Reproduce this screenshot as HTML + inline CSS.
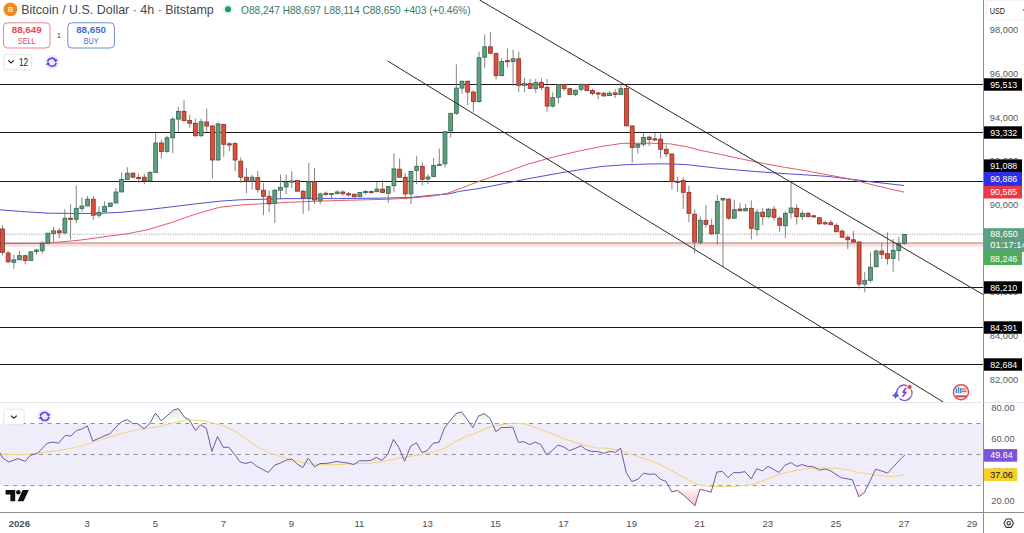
<!DOCTYPE html>
<html><head><meta charset="utf-8"><style>
html,body{margin:0;padding:0;background:#fff;width:1024px;height:533px;overflow:hidden}
svg{display:block}
text{font-family:"Liberation Sans",sans-serif}
.ax{font-size:9.3px}
.lb{font-size:9.7px}
.axg{font-size:9.3px;fill:#555862}
.tm{font-size:9.6px;fill:#4a4d58}
</style></head><body>
<svg width="1024" height="533" viewBox="0 0 1024 533">
<rect width="1024" height="533" fill="#fff"/>

<rect x="0" y="423.5" width="983" height="62.10000000000002" fill="#f0edfa"/>
<line x1="0" y1="84.5" x2="983" y2="84.5" stroke="#1b1b1b" stroke-width="1"/>
<line x1="0" y1="132.5" x2="983" y2="132.5" stroke="#1b1b1b" stroke-width="1"/>
<line x1="0" y1="181.5" x2="983" y2="181.5" stroke="#1b1b1b" stroke-width="1"/>
<line x1="0" y1="287.5" x2="983" y2="287.5" stroke="#1b1b1b" stroke-width="1"/>
<line x1="0" y1="327.5" x2="983" y2="327.5" stroke="#1b1b1b" stroke-width="1"/>
<line x1="0" y1="364.5" x2="983" y2="364.5" stroke="#1b1b1b" stroke-width="1"/>
<rect x="0" y="243.5" width="983" height="3.2" fill="#f9dfdd"/>
<line x1="0" y1="243.0" x2="983" y2="243.0" stroke="#a47a76" stroke-width="1"/>
<line x1="0" y1="234.2" x2="983" y2="234.2" stroke="#8a8a8a" stroke-width="0.9" stroke-dasharray="1 1.4"/>
<polyline points="0.0,209.8 24.4,211.7 48.8,213.2 73.0,213.4 97.7,213.4 122.0,212.2 146.5,209.8 171.0,206.9 195.3,203.9 219.7,201.2 240.0,199.8 288.8,198.6 337.7,198.6 386.5,198.1 410.9,197.4 435.3,194.9 447.5,194.2 459.7,191.3 480.0,188.4 504.4,183.5 528.8,178.6 553.2,174.2 577.7,170.0 602.1,166.4 626.5,164.7 650.9,163.9 670.4,163.9 687.5,164.7 700.0,166.2 721.5,168.6 743.0,170.5 764.4,172.2 785.9,173.7 807.4,175.0 828.9,176.5 850.4,179.1 871.9,181.9 904.1,185.5" fill="none" stroke="#5050d2" stroke-width="1"/>
<polyline points="0.0,243.6 30.0,243.5 45.0,243.2 56.2,242.3 78.7,240.3 101.2,237.2 128.0,233.6 146.5,230.0 171.0,222.7 195.3,214.2 219.7,207.3 240.0,205.0 288.8,202.3 337.7,200.5 386.5,199.3 410.9,198.1 435.3,195.7 447.5,193.2 459.7,188.8 472.0,184.0 480.0,181.0 504.4,172.5 528.8,163.9 553.2,157.1 577.7,151.3 602.1,146.4 621.6,143.4 650.9,143.2 670.4,143.9 687.5,146.9 700.0,150.3 721.5,154.6 743.0,159.3 764.4,163.6 785.9,167.5 807.4,171.1 828.9,175.0 850.4,179.1 871.9,184.7 904.1,192.2" fill="none" stroke="#e25a66" stroke-width="1"/>
<line x1="2.50" y1="225.3" x2="2.50" y2="255.3" stroke="#6f6f6f" stroke-width="1" opacity="0.85"/>
<rect x="0.55" y="229.0" width="3.9" height="23.3" fill="#d9503d" stroke="#8e2f25" stroke-width="0.8"/>
<line x1="8.17" y1="250.8" x2="8.17" y2="263.5" stroke="#6f6f6f" stroke-width="1" opacity="0.85"/>
<rect x="6.22" y="253.0" width="3.9" height="8.7" fill="#d9503d" stroke="#8e2f25" stroke-width="0.8"/>
<line x1="13.85" y1="254.8" x2="13.85" y2="268.8" stroke="#6f6f6f" stroke-width="1" opacity="0.85"/>
<rect x="11.90" y="259.8" width="3.9" height="2.5" fill="#5d9f7f" stroke="#36664f" stroke-width="0.8"/>
<line x1="19.52" y1="250.8" x2="19.52" y2="259.8" stroke="#6f6f6f" stroke-width="1" opacity="0.85"/>
<rect x="17.57" y="255.7" width="3.9" height="4.1" fill="#5d9f7f" stroke="#36664f" stroke-width="0.8"/>
<line x1="25.19" y1="254.8" x2="25.19" y2="264.3" stroke="#6f6f6f" stroke-width="1" opacity="0.85"/>
<rect x="23.24" y="255.7" width="3.9" height="4.8" fill="#d9503d" stroke="#8e2f25" stroke-width="0.8"/>
<line x1="30.87" y1="251.8" x2="30.87" y2="260.5" stroke="#6f6f6f" stroke-width="1" opacity="0.85"/>
<rect x="28.92" y="251.8" width="3.9" height="8.7" fill="#5d9f7f" stroke="#36664f" stroke-width="0.8"/>
<line x1="36.54" y1="248.8" x2="36.54" y2="254.8" stroke="#6f6f6f" stroke-width="1" opacity="0.85"/>
<rect x="34.59" y="250.0" width="3.9" height="1.5" fill="#5d9f7f" stroke="#36664f" stroke-width="0.8"/>
<line x1="42.21" y1="241.3" x2="42.21" y2="253.8" stroke="#6f6f6f" stroke-width="1" opacity="0.85"/>
<rect x="40.26" y="243.3" width="3.9" height="7.5" fill="#5d9f7f" stroke="#36664f" stroke-width="0.8"/>
<line x1="47.88" y1="233.2" x2="47.88" y2="244.0" stroke="#6f6f6f" stroke-width="1" opacity="0.85"/>
<rect x="45.93" y="233.2" width="3.9" height="10.1" fill="#5d9f7f" stroke="#36664f" stroke-width="0.8"/>
<line x1="53.56" y1="226.8" x2="53.56" y2="241.8" stroke="#6f6f6f" stroke-width="1" opacity="0.85"/>
<rect x="51.61" y="230.8" width="3.9" height="2.7" fill="#5d9f7f" stroke="#36664f" stroke-width="0.8"/>
<line x1="59.23" y1="228.3" x2="59.23" y2="238.3" stroke="#6f6f6f" stroke-width="1" opacity="0.85"/>
<rect x="57.28" y="230.8" width="3.9" height="2.0" fill="#d9503d" stroke="#8e2f25" stroke-width="0.8"/>
<line x1="64.90" y1="209.2" x2="64.90" y2="234.3" stroke="#6f6f6f" stroke-width="1" opacity="0.85"/>
<rect x="62.95" y="218.2" width="3.9" height="14.6" fill="#5d9f7f" stroke="#36664f" stroke-width="0.8"/>
<line x1="70.58" y1="204.3" x2="70.58" y2="239.5" stroke="#6f6f6f" stroke-width="1" opacity="0.85"/>
<rect x="68.63" y="218.2" width="3.9" height="1.2" fill="#d9503d" stroke="#8e2f25" stroke-width="0.8"/>
<line x1="76.25" y1="185.5" x2="76.25" y2="223.3" stroke="#6f6f6f" stroke-width="1" opacity="0.85"/>
<rect x="74.30" y="208.3" width="3.9" height="11.0" fill="#5d9f7f" stroke="#36664f" stroke-width="0.8"/>
<line x1="81.92" y1="197.4" x2="81.92" y2="211.8" stroke="#6f6f6f" stroke-width="1" opacity="0.85"/>
<rect x="79.97" y="206.0" width="3.9" height="2.4" fill="#5d9f7f" stroke="#36664f" stroke-width="0.8"/>
<line x1="87.59" y1="196.0" x2="87.59" y2="206.0" stroke="#6f6f6f" stroke-width="1" opacity="0.85"/>
<rect x="85.64" y="199.2" width="3.9" height="6.8" fill="#5d9f7f" stroke="#36664f" stroke-width="0.8"/>
<line x1="93.27" y1="196.0" x2="93.27" y2="219.7" stroke="#6f6f6f" stroke-width="1" opacity="0.85"/>
<rect x="91.32" y="199.2" width="3.9" height="16.0" fill="#d9503d" stroke="#8e2f25" stroke-width="0.8"/>
<line x1="98.94" y1="206.5" x2="98.94" y2="217.8" stroke="#6f6f6f" stroke-width="1" opacity="0.85"/>
<rect x="96.99" y="212.3" width="3.9" height="2.9" fill="#5d9f7f" stroke="#36664f" stroke-width="0.8"/>
<line x1="104.61" y1="201.3" x2="104.61" y2="212.0" stroke="#6f6f6f" stroke-width="1" opacity="0.85"/>
<rect x="102.66" y="206.5" width="3.9" height="5.3" fill="#5d9f7f" stroke="#36664f" stroke-width="0.8"/>
<line x1="110.29" y1="203.0" x2="110.29" y2="206.5" stroke="#6f6f6f" stroke-width="1" opacity="0.85"/>
<rect x="108.34" y="203.0" width="3.9" height="3.5" fill="#5d9f7f" stroke="#36664f" stroke-width="0.8"/>
<line x1="115.96" y1="188.0" x2="115.96" y2="203.0" stroke="#6f6f6f" stroke-width="1" opacity="0.85"/>
<rect x="114.01" y="192.0" width="3.9" height="11.0" fill="#5d9f7f" stroke="#36664f" stroke-width="0.8"/>
<line x1="121.63" y1="172.4" x2="121.63" y2="192.0" stroke="#6f6f6f" stroke-width="1" opacity="0.85"/>
<rect x="119.68" y="179.5" width="3.9" height="12.5" fill="#5d9f7f" stroke="#36664f" stroke-width="0.8"/>
<line x1="127.31" y1="167.2" x2="127.31" y2="179.5" stroke="#6f6f6f" stroke-width="1" opacity="0.85"/>
<rect x="125.36" y="173.2" width="3.9" height="6.3" fill="#5d9f7f" stroke="#36664f" stroke-width="0.8"/>
<line x1="132.98" y1="172.0" x2="132.98" y2="178.5" stroke="#6f6f6f" stroke-width="1" opacity="0.85"/>
<rect x="131.03" y="173.2" width="3.9" height="4.0" fill="#d9503d" stroke="#8e2f25" stroke-width="0.8"/>
<line x1="138.65" y1="173.7" x2="138.65" y2="183.0" stroke="#6f6f6f" stroke-width="1" opacity="0.85"/>
<rect x="136.70" y="177.5" width="3.9" height="1.2" fill="#d9503d" stroke="#8e2f25" stroke-width="0.8"/>
<line x1="144.32" y1="173.7" x2="144.32" y2="184.2" stroke="#6f6f6f" stroke-width="1" opacity="0.85"/>
<rect x="142.38" y="177.2" width="3.9" height="3.6" fill="#d9503d" stroke="#8e2f25" stroke-width="0.8"/>
<line x1="150.00" y1="171.0" x2="150.00" y2="181.6" stroke="#6f6f6f" stroke-width="1" opacity="0.85"/>
<rect x="148.05" y="172.4" width="3.9" height="8.6" fill="#5d9f7f" stroke="#36664f" stroke-width="0.8"/>
<line x1="155.67" y1="133.0" x2="155.67" y2="172.4" stroke="#6f6f6f" stroke-width="1" opacity="0.85"/>
<rect x="153.72" y="143.0" width="3.9" height="29.4" fill="#5d9f7f" stroke="#36664f" stroke-width="0.8"/>
<line x1="161.34" y1="139.6" x2="161.34" y2="158.5" stroke="#6f6f6f" stroke-width="1" opacity="0.85"/>
<rect x="159.39" y="143.0" width="3.9" height="8.4" fill="#d9503d" stroke="#8e2f25" stroke-width="0.8"/>
<line x1="167.02" y1="135.7" x2="167.02" y2="152.7" stroke="#6f6f6f" stroke-width="1" opacity="0.85"/>
<rect x="165.07" y="137.8" width="3.9" height="13.6" fill="#5d9f7f" stroke="#36664f" stroke-width="0.8"/>
<line x1="172.69" y1="117.3" x2="172.69" y2="153.3" stroke="#6f6f6f" stroke-width="1" opacity="0.85"/>
<rect x="170.74" y="119.1" width="3.9" height="18.7" fill="#5d9f7f" stroke="#36664f" stroke-width="0.8"/>
<line x1="178.36" y1="106.8" x2="178.36" y2="131.7" stroke="#6f6f6f" stroke-width="1" opacity="0.85"/>
<rect x="176.41" y="111.3" width="3.9" height="7.8" fill="#5d9f7f" stroke="#36664f" stroke-width="0.8"/>
<line x1="184.04" y1="100.2" x2="184.04" y2="121.0" stroke="#6f6f6f" stroke-width="1" opacity="0.85"/>
<rect x="182.09" y="111.3" width="3.9" height="9.4" fill="#d9503d" stroke="#8e2f25" stroke-width="0.8"/>
<line x1="189.71" y1="114.7" x2="189.71" y2="127.8" stroke="#6f6f6f" stroke-width="1" opacity="0.85"/>
<rect x="187.76" y="120.5" width="3.9" height="2.8" fill="#d9503d" stroke="#8e2f25" stroke-width="0.8"/>
<line x1="195.38" y1="118.6" x2="195.38" y2="137.0" stroke="#6f6f6f" stroke-width="1" opacity="0.85"/>
<rect x="193.43" y="123.3" width="3.9" height="12.4" fill="#d9503d" stroke="#8e2f25" stroke-width="0.8"/>
<line x1="201.06" y1="118.6" x2="201.06" y2="137.0" stroke="#6f6f6f" stroke-width="1" opacity="0.85"/>
<rect x="199.11" y="121.8" width="3.9" height="13.9" fill="#5d9f7f" stroke="#36664f" stroke-width="0.8"/>
<line x1="206.73" y1="108.6" x2="206.73" y2="131.7" stroke="#6f6f6f" stroke-width="1" opacity="0.85"/>
<rect x="204.78" y="122.0" width="3.9" height="4.0" fill="#d9503d" stroke="#8e2f25" stroke-width="0.8"/>
<line x1="212.40" y1="125.0" x2="212.40" y2="178.5" stroke="#6f6f6f" stroke-width="1" opacity="0.85"/>
<rect x="210.45" y="126.0" width="3.9" height="34.0" fill="#d9503d" stroke="#8e2f25" stroke-width="0.8"/>
<line x1="218.07" y1="122.6" x2="218.07" y2="160.5" stroke="#6f6f6f" stroke-width="1" opacity="0.85"/>
<rect x="216.12" y="123.9" width="3.9" height="36.1" fill="#5d9f7f" stroke="#36664f" stroke-width="0.8"/>
<line x1="223.75" y1="123.9" x2="223.75" y2="156.7" stroke="#6f6f6f" stroke-width="1" opacity="0.85"/>
<rect x="221.80" y="124.4" width="3.9" height="19.9" fill="#d9503d" stroke="#8e2f25" stroke-width="0.8"/>
<line x1="229.42" y1="142.2" x2="229.42" y2="151.4" stroke="#6f6f6f" stroke-width="1" opacity="0.85"/>
<rect x="227.47" y="143.8" width="3.9" height="1.2" fill="#d9503d" stroke="#8e2f25" stroke-width="0.8"/>
<line x1="235.09" y1="142.2" x2="235.09" y2="171.1" stroke="#6f6f6f" stroke-width="1" opacity="0.85"/>
<rect x="233.14" y="143.6" width="3.9" height="16.4" fill="#d9503d" stroke="#8e2f25" stroke-width="0.8"/>
<line x1="240.77" y1="157.5" x2="240.77" y2="182.9" stroke="#6f6f6f" stroke-width="1" opacity="0.85"/>
<rect x="238.82" y="161.1" width="3.9" height="16.1" fill="#d9503d" stroke="#8e2f25" stroke-width="0.8"/>
<line x1="246.44" y1="168.0" x2="246.44" y2="193.4" stroke="#6f6f6f" stroke-width="1" opacity="0.85"/>
<rect x="244.49" y="177.2" width="3.9" height="3.9" fill="#d9503d" stroke="#8e2f25" stroke-width="0.8"/>
<line x1="252.11" y1="175.0" x2="252.11" y2="189.5" stroke="#6f6f6f" stroke-width="1" opacity="0.85"/>
<rect x="250.16" y="177.2" width="3.9" height="3.9" fill="#5d9f7f" stroke="#36664f" stroke-width="0.8"/>
<line x1="257.78" y1="171.0" x2="257.78" y2="192.6" stroke="#6f6f6f" stroke-width="1" opacity="0.85"/>
<rect x="255.83" y="177.7" width="3.9" height="11.8" fill="#d9503d" stroke="#8e2f25" stroke-width="0.8"/>
<line x1="263.46" y1="183.1" x2="263.46" y2="215.2" stroke="#6f6f6f" stroke-width="1" opacity="0.85"/>
<rect x="261.51" y="190.2" width="3.9" height="6.1" fill="#d9503d" stroke="#8e2f25" stroke-width="0.8"/>
<line x1="269.13" y1="190.7" x2="269.13" y2="212.3" stroke="#6f6f6f" stroke-width="1" opacity="0.85"/>
<rect x="267.18" y="196.3" width="3.9" height="7.6" fill="#d9503d" stroke="#8e2f25" stroke-width="0.8"/>
<line x1="274.80" y1="189.0" x2="274.80" y2="222.8" stroke="#6f6f6f" stroke-width="1" opacity="0.85"/>
<rect x="272.85" y="190.2" width="3.9" height="13.3" fill="#5d9f7f" stroke="#36664f" stroke-width="0.8"/>
<line x1="280.48" y1="174.6" x2="280.48" y2="199.1" stroke="#6f6f6f" stroke-width="1" opacity="0.85"/>
<rect x="278.53" y="187.3" width="3.9" height="2.9" fill="#5d9f7f" stroke="#36664f" stroke-width="0.8"/>
<line x1="286.15" y1="174.6" x2="286.15" y2="194.0" stroke="#6f6f6f" stroke-width="1" opacity="0.85"/>
<rect x="284.20" y="182.7" width="3.9" height="4.3" fill="#5d9f7f" stroke="#36664f" stroke-width="0.8"/>
<line x1="291.82" y1="171.3" x2="291.82" y2="188.1" stroke="#6f6f6f" stroke-width="1" opacity="0.85"/>
<rect x="289.87" y="180.9" width="3.9" height="1.3" fill="#5d9f7f" stroke="#36664f" stroke-width="0.8"/>
<line x1="297.50" y1="180.5" x2="297.50" y2="191.2" stroke="#6f6f6f" stroke-width="1" opacity="0.85"/>
<rect x="295.55" y="180.5" width="3.9" height="10.7" fill="#d9503d" stroke="#8e2f25" stroke-width="0.8"/>
<line x1="303.17" y1="189.8" x2="303.17" y2="213.8" stroke="#6f6f6f" stroke-width="1" opacity="0.85"/>
<rect x="301.22" y="191.2" width="3.9" height="6.6" fill="#d9503d" stroke="#8e2f25" stroke-width="0.8"/>
<line x1="308.84" y1="162.8" x2="308.84" y2="211.0" stroke="#6f6f6f" stroke-width="1" opacity="0.85"/>
<rect x="306.89" y="181.9" width="3.9" height="15.9" fill="#5d9f7f" stroke="#36664f" stroke-width="0.8"/>
<line x1="314.51" y1="167.9" x2="314.51" y2="203.9" stroke="#6f6f6f" stroke-width="1" opacity="0.85"/>
<rect x="312.56" y="181.6" width="3.9" height="18.4" fill="#d9503d" stroke="#8e2f25" stroke-width="0.8"/>
<line x1="320.19" y1="192.4" x2="320.19" y2="204.2" stroke="#6f6f6f" stroke-width="1" opacity="0.85"/>
<rect x="318.24" y="194.0" width="3.9" height="6.3" fill="#5d9f7f" stroke="#36664f" stroke-width="0.8"/>
<line x1="325.86" y1="191.5" x2="325.86" y2="195.7" stroke="#6f6f6f" stroke-width="1" opacity="0.85"/>
<rect x="323.91" y="193.2" width="3.9" height="1.2" fill="#d9503d" stroke="#8e2f25" stroke-width="0.8"/>
<line x1="331.53" y1="193.4" x2="331.53" y2="198.3" stroke="#6f6f6f" stroke-width="1" opacity="0.85"/>
<rect x="329.58" y="193.4" width="3.9" height="1.2" fill="#5d9f7f" stroke="#36664f" stroke-width="0.8"/>
<line x1="337.21" y1="190.3" x2="337.21" y2="193.7" stroke="#6f6f6f" stroke-width="1" opacity="0.85"/>
<rect x="335.26" y="192.0" width="3.9" height="1.7" fill="#5d9f7f" stroke="#36664f" stroke-width="0.8"/>
<line x1="342.88" y1="190.3" x2="342.88" y2="195.7" stroke="#6f6f6f" stroke-width="1" opacity="0.85"/>
<rect x="340.93" y="192.0" width="3.9" height="1.7" fill="#d9503d" stroke="#8e2f25" stroke-width="0.8"/>
<line x1="348.55" y1="192.0" x2="348.55" y2="196.5" stroke="#6f6f6f" stroke-width="1" opacity="0.85"/>
<rect x="346.60" y="193.7" width="3.9" height="1.2" fill="#d9503d" stroke="#8e2f25" stroke-width="0.8"/>
<line x1="354.23" y1="193.7" x2="354.23" y2="197.4" stroke="#6f6f6f" stroke-width="1" opacity="0.85"/>
<rect x="352.28" y="194.2" width="3.9" height="2.6" fill="#d9503d" stroke="#8e2f25" stroke-width="0.8"/>
<line x1="359.90" y1="191.7" x2="359.90" y2="197.2" stroke="#6f6f6f" stroke-width="1" opacity="0.85"/>
<rect x="357.95" y="192.5" width="3.9" height="4.2" fill="#5d9f7f" stroke="#36664f" stroke-width="0.8"/>
<line x1="365.57" y1="190.0" x2="365.57" y2="194.2" stroke="#6f6f6f" stroke-width="1" opacity="0.85"/>
<rect x="363.62" y="191.5" width="3.9" height="1.2" fill="#5d9f7f" stroke="#36664f" stroke-width="0.8"/>
<line x1="371.25" y1="190.5" x2="371.25" y2="193.3" stroke="#6f6f6f" stroke-width="1" opacity="0.85"/>
<rect x="369.30" y="191.5" width="3.9" height="1.2" fill="#d9503d" stroke="#8e2f25" stroke-width="0.8"/>
<line x1="376.92" y1="182.4" x2="376.92" y2="192.2" stroke="#6f6f6f" stroke-width="1" opacity="0.85"/>
<rect x="374.97" y="189.1" width="3.9" height="2.6" fill="#5d9f7f" stroke="#36664f" stroke-width="0.8"/>
<line x1="382.59" y1="180.3" x2="382.59" y2="192.8" stroke="#6f6f6f" stroke-width="1" opacity="0.85"/>
<rect x="380.64" y="189.1" width="3.9" height="3.4" fill="#d9503d" stroke="#8e2f25" stroke-width="0.8"/>
<line x1="388.26" y1="186.6" x2="388.26" y2="203.0" stroke="#6f6f6f" stroke-width="1" opacity="0.85"/>
<rect x="386.31" y="186.6" width="3.9" height="6.7" fill="#5d9f7f" stroke="#36664f" stroke-width="0.8"/>
<line x1="393.94" y1="153.3" x2="393.94" y2="192.2" stroke="#6f6f6f" stroke-width="1" opacity="0.85"/>
<rect x="391.99" y="168.9" width="3.9" height="16.8" fill="#5d9f7f" stroke="#36664f" stroke-width="0.8"/>
<line x1="399.61" y1="158.4" x2="399.61" y2="177.6" stroke="#6f6f6f" stroke-width="1" opacity="0.85"/>
<rect x="397.66" y="169.2" width="3.9" height="8.1" fill="#d9503d" stroke="#8e2f25" stroke-width="0.8"/>
<line x1="405.28" y1="173.1" x2="405.28" y2="199.3" stroke="#6f6f6f" stroke-width="1" opacity="0.85"/>
<rect x="403.33" y="177.3" width="3.9" height="16.6" fill="#d9503d" stroke="#8e2f25" stroke-width="0.8"/>
<line x1="410.96" y1="171.4" x2="410.96" y2="204.3" stroke="#6f6f6f" stroke-width="1" opacity="0.85"/>
<rect x="409.01" y="171.4" width="3.9" height="22.5" fill="#5d9f7f" stroke="#36664f" stroke-width="0.8"/>
<line x1="416.63" y1="156.2" x2="416.63" y2="184.1" stroke="#6f6f6f" stroke-width="1" opacity="0.85"/>
<rect x="414.68" y="166.3" width="3.9" height="4.2" fill="#5d9f7f" stroke="#36664f" stroke-width="0.8"/>
<line x1="422.30" y1="162.1" x2="422.30" y2="185.4" stroke="#6f6f6f" stroke-width="1" opacity="0.85"/>
<rect x="420.35" y="166.3" width="3.9" height="13.0" fill="#d9503d" stroke="#8e2f25" stroke-width="0.8"/>
<line x1="427.98" y1="173.9" x2="427.98" y2="184.1" stroke="#6f6f6f" stroke-width="1" opacity="0.85"/>
<rect x="426.03" y="177.0" width="3.9" height="2.0" fill="#5d9f7f" stroke="#36664f" stroke-width="0.8"/>
<line x1="433.65" y1="157.9" x2="433.65" y2="177.3" stroke="#6f6f6f" stroke-width="1" opacity="0.85"/>
<rect x="431.70" y="165.5" width="3.9" height="11.0" fill="#5d9f7f" stroke="#36664f" stroke-width="0.8"/>
<line x1="439.32" y1="148.6" x2="439.32" y2="165.5" stroke="#6f6f6f" stroke-width="1" opacity="0.85"/>
<rect x="437.37" y="164.3" width="3.9" height="1.2" fill="#5d9f7f" stroke="#36664f" stroke-width="0.8"/>
<line x1="444.99" y1="131.0" x2="444.99" y2="167.5" stroke="#6f6f6f" stroke-width="1" opacity="0.85"/>
<rect x="443.04" y="131.7" width="3.9" height="32.1" fill="#5d9f7f" stroke="#36664f" stroke-width="0.8"/>
<line x1="450.67" y1="113.3" x2="450.67" y2="137.6" stroke="#6f6f6f" stroke-width="1" opacity="0.85"/>
<rect x="448.72" y="113.3" width="3.9" height="17.6" fill="#5d9f7f" stroke="#36664f" stroke-width="0.8"/>
<line x1="456.34" y1="64.4" x2="456.34" y2="115.0" stroke="#6f6f6f" stroke-width="1" opacity="0.85"/>
<rect x="454.39" y="88.1" width="3.9" height="25.2" fill="#5d9f7f" stroke="#36664f" stroke-width="0.8"/>
<line x1="462.01" y1="80.2" x2="462.01" y2="93.7" stroke="#6f6f6f" stroke-width="1" opacity="0.85"/>
<rect x="460.06" y="81.3" width="3.9" height="6.8" fill="#5d9f7f" stroke="#36664f" stroke-width="0.8"/>
<line x1="467.69" y1="80.2" x2="467.69" y2="105.0" stroke="#6f6f6f" stroke-width="1" opacity="0.85"/>
<rect x="465.74" y="81.3" width="3.9" height="10.8" fill="#d9503d" stroke="#8e2f25" stroke-width="0.8"/>
<line x1="473.36" y1="90.3" x2="473.36" y2="111.7" stroke="#6f6f6f" stroke-width="1" opacity="0.85"/>
<rect x="471.41" y="92.1" width="3.9" height="9.5" fill="#d9503d" stroke="#8e2f25" stroke-width="0.8"/>
<line x1="479.03" y1="51.6" x2="479.03" y2="102.7" stroke="#6f6f6f" stroke-width="1" opacity="0.85"/>
<rect x="477.08" y="57.7" width="3.9" height="43.9" fill="#5d9f7f" stroke="#36664f" stroke-width="0.8"/>
<line x1="484.70" y1="34.5" x2="484.70" y2="67.8" stroke="#6f6f6f" stroke-width="1" opacity="0.85"/>
<rect x="482.75" y="46.8" width="3.9" height="10.4" fill="#5d9f7f" stroke="#36664f" stroke-width="0.8"/>
<line x1="490.38" y1="32.2" x2="490.38" y2="54.3" stroke="#6f6f6f" stroke-width="1" opacity="0.85"/>
<rect x="488.43" y="46.8" width="3.9" height="6.4" fill="#d9503d" stroke="#8e2f25" stroke-width="0.8"/>
<line x1="496.05" y1="52.5" x2="496.05" y2="79.1" stroke="#6f6f6f" stroke-width="1" opacity="0.85"/>
<rect x="494.10" y="53.6" width="3.9" height="22.1" fill="#d9503d" stroke="#8e2f25" stroke-width="0.8"/>
<line x1="501.72" y1="58.3" x2="501.72" y2="75.7" stroke="#6f6f6f" stroke-width="1" opacity="0.85"/>
<rect x="499.77" y="61.5" width="3.9" height="14.2" fill="#5d9f7f" stroke="#36664f" stroke-width="0.8"/>
<line x1="507.40" y1="48.6" x2="507.40" y2="67.3" stroke="#6f6f6f" stroke-width="1" opacity="0.85"/>
<rect x="505.45" y="60.6" width="3.9" height="1.2" fill="#d9503d" stroke="#8e2f25" stroke-width="0.8"/>
<line x1="513.07" y1="49.8" x2="513.07" y2="85.8" stroke="#6f6f6f" stroke-width="1" opacity="0.85"/>
<rect x="511.12" y="58.8" width="3.9" height="2.7" fill="#5d9f7f" stroke="#36664f" stroke-width="0.8"/>
<line x1="518.74" y1="51.6" x2="518.74" y2="92.1" stroke="#6f6f6f" stroke-width="1" opacity="0.85"/>
<rect x="516.79" y="58.8" width="3.9" height="26.6" fill="#d9503d" stroke="#8e2f25" stroke-width="0.8"/>
<line x1="524.42" y1="77.9" x2="524.42" y2="92.1" stroke="#6f6f6f" stroke-width="1" opacity="0.85"/>
<rect x="522.47" y="83.6" width="3.9" height="1.8" fill="#5d9f7f" stroke="#36664f" stroke-width="0.8"/>
<line x1="530.09" y1="78.6" x2="530.09" y2="88.5" stroke="#6f6f6f" stroke-width="1" opacity="0.85"/>
<rect x="528.14" y="83.6" width="3.9" height="4.9" fill="#d9503d" stroke="#8e2f25" stroke-width="0.8"/>
<line x1="535.76" y1="78.9" x2="535.76" y2="92.9" stroke="#6f6f6f" stroke-width="1" opacity="0.85"/>
<rect x="533.81" y="82.6" width="3.9" height="6.1" fill="#5d9f7f" stroke="#36664f" stroke-width="0.8"/>
<line x1="541.44" y1="78.3" x2="541.44" y2="90.2" stroke="#6f6f6f" stroke-width="1" opacity="0.85"/>
<rect x="539.49" y="82.6" width="3.9" height="4.8" fill="#d9503d" stroke="#8e2f25" stroke-width="0.8"/>
<line x1="547.11" y1="78.9" x2="547.11" y2="111.8" stroke="#6f6f6f" stroke-width="1" opacity="0.85"/>
<rect x="545.16" y="87.4" width="3.9" height="18.7" fill="#d9503d" stroke="#8e2f25" stroke-width="0.8"/>
<line x1="552.78" y1="92.3" x2="552.78" y2="107.6" stroke="#6f6f6f" stroke-width="1" opacity="0.85"/>
<rect x="550.83" y="97.6" width="3.9" height="8.5" fill="#5d9f7f" stroke="#36664f" stroke-width="0.8"/>
<line x1="558.45" y1="83.8" x2="558.45" y2="103.3" stroke="#6f6f6f" stroke-width="1" opacity="0.85"/>
<rect x="556.50" y="84.4" width="3.9" height="12.8" fill="#5d9f7f" stroke="#36664f" stroke-width="0.8"/>
<line x1="564.13" y1="83.8" x2="564.13" y2="91.1" stroke="#6f6f6f" stroke-width="1" opacity="0.85"/>
<rect x="562.18" y="84.4" width="3.9" height="4.3" fill="#d9503d" stroke="#8e2f25" stroke-width="0.8"/>
<line x1="569.80" y1="88.5" x2="569.80" y2="94.8" stroke="#6f6f6f" stroke-width="1" opacity="0.85"/>
<rect x="567.85" y="88.7" width="3.9" height="5.7" fill="#d9503d" stroke="#8e2f25" stroke-width="0.8"/>
<line x1="575.47" y1="89.5" x2="575.47" y2="96.0" stroke="#6f6f6f" stroke-width="1" opacity="0.85"/>
<rect x="573.52" y="90.2" width="3.9" height="4.2" fill="#5d9f7f" stroke="#36664f" stroke-width="0.8"/>
<line x1="581.15" y1="83.2" x2="581.15" y2="91.5" stroke="#6f6f6f" stroke-width="1" opacity="0.85"/>
<rect x="579.20" y="84.4" width="3.9" height="4.9" fill="#5d9f7f" stroke="#36664f" stroke-width="0.8"/>
<line x1="586.82" y1="84.2" x2="586.82" y2="90.8" stroke="#6f6f6f" stroke-width="1" opacity="0.85"/>
<rect x="584.87" y="84.4" width="3.9" height="6.1" fill="#d9503d" stroke="#8e2f25" stroke-width="0.8"/>
<line x1="592.49" y1="88.7" x2="592.49" y2="95.4" stroke="#6f6f6f" stroke-width="1" opacity="0.85"/>
<rect x="590.54" y="90.5" width="3.9" height="3.0" fill="#d9503d" stroke="#8e2f25" stroke-width="0.8"/>
<line x1="598.16" y1="92.0" x2="598.16" y2="99.0" stroke="#6f6f6f" stroke-width="1" opacity="0.85"/>
<rect x="596.21" y="92.9" width="3.9" height="1.2" fill="#d9503d" stroke="#8e2f25" stroke-width="0.8"/>
<line x1="603.84" y1="92.0" x2="603.84" y2="96.0" stroke="#6f6f6f" stroke-width="1" opacity="0.85"/>
<rect x="601.89" y="93.2" width="3.9" height="2.8" fill="#d9503d" stroke="#8e2f25" stroke-width="0.8"/>
<line x1="609.51" y1="91.1" x2="609.51" y2="96.0" stroke="#6f6f6f" stroke-width="1" opacity="0.85"/>
<rect x="607.56" y="93.2" width="3.9" height="2.4" fill="#5d9f7f" stroke="#36664f" stroke-width="0.8"/>
<line x1="615.18" y1="89.3" x2="615.18" y2="98.0" stroke="#6f6f6f" stroke-width="1" opacity="0.85"/>
<rect x="613.23" y="92.9" width="3.9" height="1.5" fill="#d9503d" stroke="#8e2f25" stroke-width="0.8"/>
<line x1="620.86" y1="85.6" x2="620.86" y2="94.8" stroke="#6f6f6f" stroke-width="1" opacity="0.85"/>
<rect x="618.91" y="88.7" width="3.9" height="5.7" fill="#5d9f7f" stroke="#36664f" stroke-width="0.8"/>
<line x1="626.53" y1="85.0" x2="626.53" y2="125.9" stroke="#6f6f6f" stroke-width="1" opacity="0.85"/>
<rect x="624.58" y="88.4" width="3.9" height="37.5" fill="#d9503d" stroke="#8e2f25" stroke-width="0.8"/>
<line x1="632.20" y1="125.9" x2="632.20" y2="162.8" stroke="#6f6f6f" stroke-width="1" opacity="0.85"/>
<rect x="630.25" y="125.9" width="3.9" height="21.7" fill="#d9503d" stroke="#8e2f25" stroke-width="0.8"/>
<line x1="637.88" y1="143.9" x2="637.88" y2="153.5" stroke="#6f6f6f" stroke-width="1" opacity="0.85"/>
<rect x="635.93" y="144.2" width="3.9" height="3.0" fill="#5d9f7f" stroke="#36664f" stroke-width="0.8"/>
<line x1="643.55" y1="133.2" x2="643.55" y2="146.7" stroke="#6f6f6f" stroke-width="1" opacity="0.85"/>
<rect x="641.60" y="137.4" width="3.9" height="6.8" fill="#5d9f7f" stroke="#36664f" stroke-width="0.8"/>
<line x1="649.22" y1="135.7" x2="649.22" y2="145.9" stroke="#6f6f6f" stroke-width="1" opacity="0.85"/>
<rect x="647.27" y="137.1" width="3.9" height="2.4" fill="#d9503d" stroke="#8e2f25" stroke-width="0.8"/>
<line x1="654.89" y1="133.2" x2="654.89" y2="140.5" stroke="#6f6f6f" stroke-width="1" opacity="0.85"/>
<rect x="652.94" y="138.8" width="3.9" height="1.2" fill="#d9503d" stroke="#8e2f25" stroke-width="0.8"/>
<line x1="660.57" y1="133.7" x2="660.57" y2="158.5" stroke="#6f6f6f" stroke-width="1" opacity="0.85"/>
<rect x="658.62" y="139.1" width="3.9" height="10.2" fill="#d9503d" stroke="#8e2f25" stroke-width="0.8"/>
<line x1="666.24" y1="145.0" x2="666.24" y2="156.9" stroke="#6f6f6f" stroke-width="1" opacity="0.85"/>
<rect x="664.29" y="149.3" width="3.9" height="4.5" fill="#d9503d" stroke="#8e2f25" stroke-width="0.8"/>
<line x1="671.91" y1="153.4" x2="671.91" y2="189.4" stroke="#6f6f6f" stroke-width="1" opacity="0.85"/>
<rect x="669.96" y="154.0" width="3.9" height="27.5" fill="#d9503d" stroke="#8e2f25" stroke-width="0.8"/>
<line x1="677.59" y1="176.6" x2="677.59" y2="191.7" stroke="#6f6f6f" stroke-width="1" opacity="0.85"/>
<rect x="675.64" y="181.3" width="3.9" height="1.2" fill="#d9503d" stroke="#8e2f25" stroke-width="0.8"/>
<line x1="683.26" y1="177.0" x2="683.26" y2="209.0" stroke="#6f6f6f" stroke-width="1" opacity="0.85"/>
<rect x="681.31" y="180.4" width="3.9" height="11.9" fill="#d9503d" stroke="#8e2f25" stroke-width="0.8"/>
<line x1="688.93" y1="186.0" x2="688.93" y2="222.1" stroke="#6f6f6f" stroke-width="1" opacity="0.85"/>
<rect x="686.98" y="192.3" width="3.9" height="21.2" fill="#d9503d" stroke="#8e2f25" stroke-width="0.8"/>
<line x1="694.61" y1="209.7" x2="694.61" y2="253.2" stroke="#6f6f6f" stroke-width="1" opacity="0.85"/>
<rect x="692.66" y="214.2" width="3.9" height="27.7" fill="#d9503d" stroke="#8e2f25" stroke-width="0.8"/>
<line x1="700.28" y1="216.4" x2="700.28" y2="244.6" stroke="#6f6f6f" stroke-width="1" opacity="0.85"/>
<rect x="698.33" y="220.3" width="3.9" height="22.0" fill="#5d9f7f" stroke="#36664f" stroke-width="0.8"/>
<line x1="705.95" y1="205.2" x2="705.95" y2="227.7" stroke="#6f6f6f" stroke-width="1" opacity="0.85"/>
<rect x="704.00" y="220.3" width="3.9" height="4.0" fill="#d9503d" stroke="#8e2f25" stroke-width="0.8"/>
<line x1="711.62" y1="218.7" x2="711.62" y2="235.1" stroke="#6f6f6f" stroke-width="1" opacity="0.85"/>
<rect x="709.67" y="225.5" width="3.9" height="8.3" fill="#d9503d" stroke="#8e2f25" stroke-width="0.8"/>
<line x1="717.30" y1="195.0" x2="717.30" y2="244.6" stroke="#6f6f6f" stroke-width="1" opacity="0.85"/>
<rect x="715.35" y="201.4" width="3.9" height="31.9" fill="#5d9f7f" stroke="#36664f" stroke-width="0.8"/>
<line x1="722.97" y1="198.4" x2="722.97" y2="267.1" stroke="#6f6f6f" stroke-width="1" opacity="0.85"/>
<rect x="721.02" y="198.4" width="3.9" height="1.6" fill="#5d9f7f" stroke="#36664f" stroke-width="0.8"/>
<line x1="728.64" y1="198.4" x2="728.64" y2="219.8" stroke="#6f6f6f" stroke-width="1" opacity="0.85"/>
<rect x="726.69" y="199.1" width="3.9" height="19.1" fill="#d9503d" stroke="#8e2f25" stroke-width="0.8"/>
<line x1="734.32" y1="200.0" x2="734.32" y2="218.6" stroke="#6f6f6f" stroke-width="1" opacity="0.85"/>
<rect x="732.37" y="209.7" width="3.9" height="8.5" fill="#5d9f7f" stroke="#36664f" stroke-width="0.8"/>
<line x1="739.99" y1="203.0" x2="739.99" y2="211.3" stroke="#6f6f6f" stroke-width="1" opacity="0.85"/>
<rect x="738.04" y="209.0" width="3.9" height="1.8" fill="#d9503d" stroke="#8e2f25" stroke-width="0.8"/>
<line x1="745.66" y1="204.0" x2="745.66" y2="211.3" stroke="#6f6f6f" stroke-width="1" opacity="0.85"/>
<rect x="743.71" y="208.6" width="3.9" height="2.2" fill="#5d9f7f" stroke="#36664f" stroke-width="0.8"/>
<line x1="751.34" y1="200.5" x2="751.34" y2="239.3" stroke="#6f6f6f" stroke-width="1" opacity="0.85"/>
<rect x="749.39" y="208.3" width="3.9" height="20.0" fill="#d9503d" stroke="#8e2f25" stroke-width="0.8"/>
<line x1="757.01" y1="209.2" x2="757.01" y2="235.8" stroke="#6f6f6f" stroke-width="1" opacity="0.85"/>
<rect x="755.06" y="212.2" width="3.9" height="17.2" fill="#5d9f7f" stroke="#36664f" stroke-width="0.8"/>
<line x1="762.68" y1="208.3" x2="762.68" y2="225.3" stroke="#6f6f6f" stroke-width="1" opacity="0.85"/>
<rect x="760.73" y="212.2" width="3.9" height="4.5" fill="#d9503d" stroke="#8e2f25" stroke-width="0.8"/>
<line x1="768.36" y1="208.0" x2="768.36" y2="218.5" stroke="#6f6f6f" stroke-width="1" opacity="0.85"/>
<rect x="766.40" y="209.2" width="3.9" height="7.5" fill="#5d9f7f" stroke="#36664f" stroke-width="0.8"/>
<line x1="774.03" y1="205.8" x2="774.03" y2="220.3" stroke="#6f6f6f" stroke-width="1" opacity="0.85"/>
<rect x="772.08" y="209.2" width="3.9" height="8.1" fill="#d9503d" stroke="#8e2f25" stroke-width="0.8"/>
<line x1="779.70" y1="216.3" x2="779.70" y2="231.8" stroke="#6f6f6f" stroke-width="1" opacity="0.85"/>
<rect x="777.75" y="218.2" width="3.9" height="7.1" fill="#d9503d" stroke="#8e2f25" stroke-width="0.8"/>
<line x1="785.37" y1="211.3" x2="785.37" y2="238.1" stroke="#6f6f6f" stroke-width="1" opacity="0.85"/>
<rect x="783.42" y="213.3" width="3.9" height="12.5" fill="#5d9f7f" stroke="#36664f" stroke-width="0.8"/>
<line x1="791.05" y1="181.8" x2="791.05" y2="218.5" stroke="#6f6f6f" stroke-width="1" opacity="0.85"/>
<rect x="789.10" y="208.0" width="3.9" height="4.8" fill="#5d9f7f" stroke="#36664f" stroke-width="0.8"/>
<line x1="796.72" y1="204.3" x2="796.72" y2="224.5" stroke="#6f6f6f" stroke-width="1" opacity="0.85"/>
<rect x="794.77" y="208.3" width="3.9" height="8.4" fill="#d9503d" stroke="#8e2f25" stroke-width="0.8"/>
<line x1="802.39" y1="210.7" x2="802.39" y2="219.7" stroke="#6f6f6f" stroke-width="1" opacity="0.85"/>
<rect x="800.44" y="213.3" width="3.9" height="3.4" fill="#5d9f7f" stroke="#36664f" stroke-width="0.8"/>
<line x1="808.07" y1="211.8" x2="808.07" y2="217.0" stroke="#6f6f6f" stroke-width="1" opacity="0.85"/>
<rect x="806.12" y="213.3" width="3.9" height="3.4" fill="#d9503d" stroke="#8e2f25" stroke-width="0.8"/>
<line x1="813.74" y1="214.8" x2="813.74" y2="217.0" stroke="#6f6f6f" stroke-width="1" opacity="0.85"/>
<rect x="811.79" y="215.8" width="3.9" height="1.2" fill="#d9503d" stroke="#8e2f25" stroke-width="0.8"/>
<line x1="819.41" y1="217.0" x2="819.41" y2="224.5" stroke="#6f6f6f" stroke-width="1" opacity="0.85"/>
<rect x="817.46" y="217.8" width="3.9" height="6.0" fill="#d9503d" stroke="#8e2f25" stroke-width="0.8"/>
<line x1="825.09" y1="220.8" x2="825.09" y2="225.3" stroke="#6f6f6f" stroke-width="1" opacity="0.85"/>
<rect x="823.13" y="222.7" width="3.9" height="1.2" fill="#d9503d" stroke="#8e2f25" stroke-width="0.8"/>
<line x1="830.76" y1="220.0" x2="830.76" y2="224.8" stroke="#6f6f6f" stroke-width="1" opacity="0.85"/>
<rect x="828.81" y="222.7" width="3.9" height="2.1" fill="#d9503d" stroke="#8e2f25" stroke-width="0.8"/>
<line x1="836.43" y1="223.3" x2="836.43" y2="232.1" stroke="#6f6f6f" stroke-width="1" opacity="0.85"/>
<rect x="834.48" y="225.3" width="3.9" height="6.5" fill="#d9503d" stroke="#8e2f25" stroke-width="0.8"/>
<line x1="842.10" y1="229.0" x2="842.10" y2="237.5" stroke="#6f6f6f" stroke-width="1" opacity="0.85"/>
<rect x="840.15" y="231.2" width="3.9" height="6.0" fill="#d9503d" stroke="#8e2f25" stroke-width="0.8"/>
<line x1="847.78" y1="235.3" x2="847.78" y2="249.2" stroke="#6f6f6f" stroke-width="1" opacity="0.85"/>
<rect x="845.83" y="237.2" width="3.9" height="2.6" fill="#d9503d" stroke="#8e2f25" stroke-width="0.8"/>
<line x1="853.45" y1="230.8" x2="853.45" y2="242.8" stroke="#6f6f6f" stroke-width="1" opacity="0.85"/>
<rect x="851.50" y="239.8" width="3.9" height="2.2" fill="#d9503d" stroke="#8e2f25" stroke-width="0.8"/>
<line x1="859.12" y1="241.5" x2="859.12" y2="288.6" stroke="#6f6f6f" stroke-width="1" opacity="0.85"/>
<rect x="857.17" y="242.0" width="3.9" height="42.1" fill="#d9503d" stroke="#8e2f25" stroke-width="0.8"/>
<line x1="864.80" y1="272.0" x2="864.80" y2="292.3" stroke="#6f6f6f" stroke-width="1" opacity="0.85"/>
<rect x="862.85" y="280.3" width="3.9" height="3.8" fill="#5d9f7f" stroke="#36664f" stroke-width="0.8"/>
<line x1="870.47" y1="252.5" x2="870.47" y2="282.6" stroke="#6f6f6f" stroke-width="1" opacity="0.85"/>
<rect x="868.52" y="267.3" width="3.9" height="13.0" fill="#5d9f7f" stroke="#36664f" stroke-width="0.8"/>
<line x1="876.14" y1="249.5" x2="876.14" y2="267.0" stroke="#6f6f6f" stroke-width="1" opacity="0.85"/>
<rect x="874.19" y="251.0" width="3.9" height="15.8" fill="#5d9f7f" stroke="#36664f" stroke-width="0.8"/>
<line x1="881.82" y1="242.8" x2="881.82" y2="259.3" stroke="#6f6f6f" stroke-width="1" opacity="0.85"/>
<rect x="879.87" y="251.0" width="3.9" height="3.3" fill="#d9503d" stroke="#8e2f25" stroke-width="0.8"/>
<line x1="887.49" y1="232.3" x2="887.49" y2="264.5" stroke="#6f6f6f" stroke-width="1" opacity="0.85"/>
<rect x="885.54" y="253.7" width="3.9" height="4.8" fill="#d9503d" stroke="#8e2f25" stroke-width="0.8"/>
<line x1="893.16" y1="239.0" x2="893.16" y2="271.8" stroke="#6f6f6f" stroke-width="1" opacity="0.85"/>
<rect x="891.21" y="250.3" width="3.9" height="8.2" fill="#5d9f7f" stroke="#36664f" stroke-width="0.8"/>
<line x1="898.83" y1="236.8" x2="898.83" y2="260.8" stroke="#6f6f6f" stroke-width="1" opacity="0.85"/>
<rect x="896.88" y="243.5" width="3.9" height="7.2" fill="#5d9f7f" stroke="#36664f" stroke-width="0.8"/>
<line x1="904.51" y1="233.8" x2="904.51" y2="244.7" stroke="#6f6f6f" stroke-width="1" opacity="0.85"/>
<rect x="902.56" y="234.5" width="3.9" height="9.0" fill="#5d9f7f" stroke="#36664f" stroke-width="0.8"/>
<line x1="479.6" y1="0" x2="983" y2="294.5" stroke="#2a2a2a" stroke-width="1"/>
<line x1="387.7" y1="61" x2="943.4" y2="402.1" stroke="#2a2a2a" stroke-width="1"/>
<line x1="0" y1="402.5" x2="983" y2="402.5" stroke="#e6e6ea" stroke-width="1"/>
<line x1="0" y1="423.5" x2="983" y2="423.5" stroke="#8f8f99" stroke-width="1" stroke-dasharray="4 4.6" stroke-dashoffset="4"/>
<line x1="0" y1="454.5" x2="983" y2="454.5" stroke="#8f8f99" stroke-width="1" stroke-dasharray="4 4.6" stroke-dashoffset="4"/>
<line x1="0" y1="485.6" x2="983" y2="485.6" stroke="#8f8f99" stroke-width="1" stroke-dasharray="4 4.6" stroke-dashoffset="4"/>
<defs><linearGradient id="gob" gradientUnits="userSpaceOnUse" x1="0" y1="423.5" x2="0" y2="376.6"><stop offset="0" stop-color="#4caf50" stop-opacity="0"/><stop offset="1" stop-color="#4caf50" stop-opacity="0.75"/></linearGradient><linearGradient id="gos" gradientUnits="userSpaceOnUse" x1="0" y1="485.6" x2="0" y2="532.5"><stop offset="0" stop-color="#f23645" stop-opacity="0"/><stop offset="1" stop-color="#f23645" stop-opacity="0.75"/></linearGradient></defs>
<polygon points="119.8,423.5 121.6,421.8 127.3,419.6 132.8,423.5" fill="url(#gob)"/>
<polygon points="149.9,423.5 155.4,413.0 161.0,420.7 166.7,416.2 173.4,410.1 178.4,408.6 184.2,416.9 189.2,419.8 191.4,423.5" fill="url(#gob)"/>
<polygon points="447.9,423.5 450.4,420.3 456.0,413.5 461.6,411.9 467.3,419.6 470.1,423.5" fill="url(#gob)"/>
<polygon points="474.8,423.5 478.3,416.2 484.1,413.5 489.8,418.0 492.3,423.5" fill="url(#gob)"/>
<polygon points="668.3,485.6 671.7,491.9 677.3,490.5 683.0,494.6 689.1,500.2 694.9,505.9 699.9,489.4 705.5,490.5 711.1,492.3 713.0,485.6" fill="url(#gos)"/>
<polygon points="854.6,485.6 858.8,496.8 864.4,492.7 867.8,485.6" fill="url(#gos)"/>
<polyline points="0.0,454.0 22.5,454.7 38.3,452.9 56.3,450.7 74.3,447.7 90.0,443.2 112.6,436.0 135.1,430.0 157.7,426.6 175.7,422.5 186.9,419.8 195.0,420.3 204.0,420.7 213.0,423.2 224.3,425.9 235.5,431.5 246.8,439.4 258.0,447.3 269.3,452.9 280.6,456.8 291.8,459.7 303.1,462.6 314.4,464.2 330.1,464.9 352.7,463.7 370.7,463.1 384.2,461.3 395.0,459.0 403.5,457.4 417.0,455.2 430.5,452.9 444.0,448.4 455.3,441.7 466.6,436.0 475.6,433.3 486.8,428.2 498.1,425.2 513.9,423.0 525.1,423.9 538.6,428.8 552.2,433.8 565.7,439.4 579.2,443.5 590.0,446.8 596.3,447.7 607.5,448.4 618.8,450.0 630.0,454.1 641.3,457.4 652.6,461.3 663.8,466.4 675.1,472.5 686.4,478.8 697.6,484.5 706.6,486.0 720.1,486.7 738.2,486.3 751.7,484.5 765.2,480.0 776.4,475.5 785.0,472.5 791.3,471.6 802.5,469.3 813.8,468.2 825.0,468.0 836.3,468.2 847.5,469.8 858.8,472.5 870.0,474.3 881.3,475.8 892.5,476.5 904.9,474.6" fill="none" stroke="#f0d77a" stroke-width="1.1"/>
<polyline points="0.0,452.9 2.7,458.1 9.0,462.0 18.0,458.6 25.2,461.3 30.4,455.2 37.2,453.6 47.3,443.2 52.9,442.1 58.6,443.2 65.3,435.4 70.9,436.0 76.6,430.4 82.2,428.8 87.4,425.9 92.8,441.0 98.0,438.7 104.0,436.0 109.9,433.8 116.0,427.0 121.6,421.8 127.3,419.6 132.9,423.6 137.4,423.6 144.1,428.8 149.8,423.6 155.4,413.0 161.0,420.7 166.7,416.2 173.4,410.1 178.4,408.6 184.2,416.9 189.2,419.8 195.5,430.4 200.6,424.8 206.3,428.2 211.9,451.4 217.5,436.5 223.2,447.3 228.8,447.3 234.4,454.1 240.0,461.9 245.7,463.5 251.3,461.9 256.9,466.4 262.6,469.4 268.2,472.5 275.0,464.9 280.6,463.1 286.2,460.1 291.8,459.0 297.5,464.2 302.7,467.6 308.3,458.1 314.4,466.9 320.0,463.5 325.6,463.5 331.3,462.6 336.9,461.5 342.5,462.4 348.2,463.1 353.8,464.6 359.4,460.8 365.0,460.8 370.7,460.4 376.3,457.4 381.9,460.4 387.6,454.5 393.4,439.4 399.0,447.7 404.6,461.3 410.7,446.2 416.4,442.8 422.0,452.5 427.2,450.7 433.2,443.2 439.1,442.3 444.7,427.5 450.4,420.3 456.0,413.5 461.6,411.9 467.3,419.6 472.9,427.5 478.3,416.2 484.1,413.5 489.8,418.0 495.9,431.5 501.5,427.5 507.1,427.5 512.7,427.0 518.4,442.3 524.0,441.7 529.6,444.6 535.3,442.1 540.9,444.6 546.5,454.7 552.2,450.7 557.8,445.0 563.4,446.8 569.5,450.7 575.1,448.4 581.0,445.7 585.9,449.5 591.3,451.4 597.4,451.4 603.7,453.4 609.8,451.4 615.4,452.3 620.6,448.0 626.2,472.5 631.8,481.5 637.9,479.3 643.6,473.2 649.2,474.3 654.8,473.9 660.5,479.3 666.1,481.5 671.7,491.9 677.3,490.5 683.0,494.6 689.1,500.2 694.9,505.9 699.9,489.4 705.5,490.5 711.1,492.3 716.8,472.1 722.4,471.4 728.0,477.7 733.6,472.5 739.3,472.7 744.9,471.6 751.2,478.8 756.8,468.7 762.5,470.9 767.9,466.4 773.7,469.4 779.1,472.5 785.0,465.3 790.8,462.6 796.9,466.4 802.0,464.6 807.5,466.4 813.8,466.8 819.4,470.2 824.6,469.1 830.0,470.4 835.8,474.3 841.2,477.7 847.1,478.8 852.5,479.9 858.8,496.8 864.4,492.7 870.0,481.0 875.7,469.3 881.3,470.9 887.6,473.1 893.2,467.1 899.3,460.3 904.9,454.9" fill="none" stroke="#6a5aa8" stroke-width="1"/>
<line x1="0" y1="512.5" x2="1024" y2="512.5" stroke="#8c8c8c" stroke-width="1"/>
<line x1="983.5" y1="0" x2="983.5" y2="533" stroke="#8c8c8c" stroke-width="1"/>
<line x1="983.5" y1="402.5" x2="1024" y2="402.5" stroke="#e6e6ea" stroke-width="1"/>
<text x="1004" y="33.2" class="axg" text-anchor="middle">98,000</text>
<text x="1004" y="76.9" class="axg" text-anchor="middle">96,000</text>
<text x="1004" y="120.6" class="axg" text-anchor="middle">94,000</text>
<text x="1004" y="208.0" class="axg" text-anchor="middle">90,000</text>
<text x="1004" y="382.8" class="axg" text-anchor="middle">82,000</text>
<text x="1003" y="410.9" class="axg" text-anchor="middle">80.00</text>
<text x="1003" y="442.2" class="axg" text-anchor="middle">60.00</text>
<text x="1003" y="504.3" class="axg" text-anchor="middle">20.00</text>
<text x="1004" y="164.3" class="axg" text-anchor="middle">92,000</text>
<text x="1004" y="251.7" class="axg" text-anchor="middle">88,000</text>
<text x="1004" y="295.4" class="axg" text-anchor="middle">86,000</text>
<text x="1004" y="339.1" class="axg" text-anchor="middle">84,000</text>
<text x="1003" y="473.6" class="axg" text-anchor="middle">40.00</text>
<rect x="984" y="78.30" width="38" height="12.4" fill="#000"/><text x="990.2" y="87.50" fill="#fff" class="lb" textLength="27.1" lengthAdjust="spacingAndGlyphs">95,513</text>
<rect x="984" y="126.30" width="38" height="12.4" fill="#000"/><text x="990.2" y="135.50" fill="#fff" class="lb" textLength="27.1" lengthAdjust="spacingAndGlyphs">93,332</text>
<rect x="984" y="159.40" width="38" height="12.6" fill="#000"/><text x="990.2" y="168.70" fill="#fff" class="lb" textLength="27.1" lengthAdjust="spacingAndGlyphs">91,088</text>
<rect x="984" y="172.00" width="38" height="14.1" fill="#2f2fe6"/><text x="990.2" y="182.05" fill="#fff" class="lb" textLength="27.1" lengthAdjust="spacingAndGlyphs">90,886</text>
<rect x="984" y="185.90" width="38" height="12.6" fill="#ee3843"/><text x="990.2" y="195.20" fill="#fff" class="lb" textLength="27.1" lengthAdjust="spacingAndGlyphs">90,585</text>
<rect x="984" y="281.30" width="38" height="12.4" fill="#000"/><text x="990.2" y="290.50" fill="#fff" class="lb" textLength="27.1" lengthAdjust="spacingAndGlyphs">86,210</text>
<rect x="984" y="321.30" width="38" height="12.4" fill="#000"/><text x="990.2" y="330.50" fill="#fff" class="lb" textLength="27.1" lengthAdjust="spacingAndGlyphs">84,391</text>
<rect x="984" y="358.30" width="38" height="12.4" fill="#000"/><text x="990.2" y="367.50" fill="#fff" class="lb" textLength="27.1" lengthAdjust="spacingAndGlyphs">82,684</text>
<rect x="984" y="228.2" width="40" height="23.8" fill="#5e9f80"/>
<text x="990.3" y="237.2" fill="#fff" class="lb" textLength="27.4" lengthAdjust="spacingAndGlyphs">88,650</text>
<text x="990.3" y="247.7" fill="#fff" class="lb" textLength="36.5" lengthAdjust="spacingAndGlyphs">01:17:14</text>
<rect x="984" y="252.00" width="38" height="13" fill="#4cad5a"/><text x="990.2" y="261.50" fill="#fff" class="lb" textLength="27.1" lengthAdjust="spacingAndGlyphs">88,246</text>
<rect x="984" y="449.10" width="33.2" height="12.6" fill="#7b52d8"/><text x="990.2" y="458.40" fill="#fff" class="lb" textLength="22.5" lengthAdjust="spacingAndGlyphs">49.64</text>
<rect x="984" y="468.30" width="33.4" height="12.7" fill="#f6cf2a"/><text x="990.2" y="477.65" fill="#111" class="lb" textLength="22.5" lengthAdjust="spacingAndGlyphs">37.06</text>
<rect x="986" y="0.5" width="40" height="19.3" fill="#fff" stroke="#eef0f3" stroke-width="1" rx="2"/>
<text x="989.7" y="13.7" fill="#222" style="font-size:9.6px" textLength="15.3" lengthAdjust="spacingAndGlyphs">USD</text>
<circle cx="1023.6" cy="9.9" r="0.9" fill="#888"/>
<text x="19.3" y="527" class="tm" text-anchor="middle" font-weight="bold">2026</text>
<text x="87.2" y="527" class="tm" text-anchor="middle">3</text>
<text x="155.3" y="527" class="tm" text-anchor="middle">5</text>
<text x="223.3" y="527" class="tm" text-anchor="middle">7</text>
<text x="291.4" y="527" class="tm" text-anchor="middle">9</text>
<text x="359.4" y="527" class="tm" text-anchor="middle">11</text>
<text x="427.5" y="527" class="tm" text-anchor="middle">13</text>
<text x="495.6" y="527" class="tm" text-anchor="middle">15</text>
<text x="563.6" y="527" class="tm" text-anchor="middle">17</text>
<text x="631.7" y="527" class="tm" text-anchor="middle">19</text>
<text x="699.7" y="527" class="tm" text-anchor="middle">21</text>
<text x="767.8" y="527" class="tm" text-anchor="middle">23</text>
<text x="835.9" y="527" class="tm" text-anchor="middle">25</text>
<text x="903.9" y="527" class="tm" text-anchor="middle">27</text>
<text x="972.0" y="527" class="tm" text-anchor="middle">29</text>
<circle cx="10.4" cy="9.4" r="6.9" fill="#ef8a22"/>
<text x="10.4" y="12.3" text-anchor="middle" fill="#fde9cc" style="font-size:7.5px;font-weight:bold">B</text>
<text x="21.3" y="13.9" fill="#44474f" style="font-size:12.2px" textLength="192.4" lengthAdjust="spacingAndGlyphs">Bitcoin / U.S. Dollar · 4h · Bitstamp</text>
<circle cx="228" cy="9.3" r="5" fill="#dff3ec"/>
<circle cx="228" cy="9.3" r="3" fill="#189a78"/>
<text x="241" y="13.6" fill="#357a66" style="font-size:10.2px" textLength="229.5" lengthAdjust="spacingAndGlyphs">O88,247 H88,697 L88,114 C88,650 +403 (+0.46%)</text>
<rect x="3.4" y="22.8" width="46.6" height="25.2" rx="4" fill="#fff" stroke="#e9848a" stroke-width="1"/>
<text x="26.7" y="33.2" text-anchor="middle" fill="#e04b55" style="font-size:9px;font-weight:bold" textLength="29.9" lengthAdjust="spacingAndGlyphs">88,649</text>
<text x="26.7" y="44.2" text-anchor="middle" fill="#e04b55" style="font-size:9px" textLength="17.5" lengthAdjust="spacingAndGlyphs">SELL</text>
<text x="59" y="38" text-anchor="middle" fill="#333" style="font-size:7px">1</text>
<rect x="67.8" y="22.8" width="46.6" height="25.2" rx="4" fill="#fff" stroke="#6a8fd8" stroke-width="1"/>
<text x="91.1" y="33.2" text-anchor="middle" fill="#3f6fd0" style="font-size:9px;font-weight:bold" textLength="29.9" lengthAdjust="spacingAndGlyphs">88,650</text>
<text x="91.1" y="44.2" text-anchor="middle" fill="#3f6fd0" style="font-size:9px" textLength="14.5" lengthAdjust="spacingAndGlyphs">BUY</text>
<rect x="3.9" y="54.6" width="27.8" height="15.2" rx="2" fill="#fff" stroke="#e3e5ea" stroke-width="1"/>
<path d="M8.2 60.4 L11 63 L13.8 60.4" fill="none" stroke="#222" stroke-width="1.2"/>
<text x="18.9" y="65.6" fill="#222" style="font-size:10.4px" textLength="9.2" lengthAdjust="spacingAndGlyphs">12</text>
<circle cx="51.9" cy="62.2" r="7.2" fill="#efe8ff"/><path d="M47.6 61.6 A4.3 4.3 0 0 1 55.6 60.4" fill="none" stroke="#5b3fd8" stroke-width="1.5"/><path d="M56.2 62.8 A4.3 4.3 0 0 1 48.2 64.0" fill="none" stroke="#5b3fd8" stroke-width="1.5"/><path d="M57.8 59.6 L55.8 62.6 L53.6 60.0 Z" fill="#5b3fd8"/><path d="M46.0 64.8 L48.0 61.8 L50.2 64.4 Z" fill="#5b3fd8"/>
<rect x="3.6" y="409.3" width="20.6" height="15" rx="2" fill="#fff" stroke="#e3e5ea" stroke-width="1"/>
<path d="M11 415.6 L13.9 418.2 L16.8 415.6" fill="none" stroke="#222" stroke-width="1.2"/>
<circle cx="44.6" cy="416.4" r="7.2" fill="#efe8ff"/><path d="M40.3 415.8 A4.3 4.3 0 0 1 48.3 414.6" fill="none" stroke="#5b3fd8" stroke-width="1.5"/><path d="M48.9 417.0 A4.3 4.3 0 0 1 40.9 418.2" fill="none" stroke="#5b3fd8" stroke-width="1.5"/><path d="M50.5 413.8 L48.5 416.8 L46.3 414.2 Z" fill="#5b3fd8"/><path d="M38.7 419.0 L40.7 416.0 L42.9 418.6 Z" fill="#5b3fd8"/>
<path d="M5.6 490 H15.2 V501.3 H10.4 V494.6 H5.6 Z" fill="#111"/>
<circle cx="18.3" cy="492.3" r="2.3" fill="#111"/>
<path d="M22.6 490 H28.8 L23.6 501.3 H17.6 Z" fill="#111"/>
<path d="M1003.9 523.2 L1006.3 519 L1011.1 519 L1013.5 523.2 L1011.1 527.4 L1006.3 527.4 Z" fill="none" stroke="#333" stroke-width="1.1" stroke-linejoin="round"/>
<circle cx="1008.7" cy="523.2" r="1.7" fill="none" stroke="#333" stroke-width="1.1"/>
<defs><linearGradient id="lg1" x1="0" y1="1" x2="1" y2="0"><stop offset="0" stop-color="#5b5ce0"/><stop offset="1" stop-color="#a64cc8"/></linearGradient></defs>
<path d="M898.2 396.9 A7.4 7.4 0 0 1 907.2 385.8" fill="none" stroke="url(#lg1)" stroke-width="1.4"/>
<path d="M911.2 389.6 A7.4 7.4 0 0 1 899.6 398.4" fill="none" stroke="url(#lg1)" stroke-width="1.4"/>
<path d="M906.2 387.8 L902.9 392.2 L906.0 392.2 L902.5 396.8" fill="none" stroke="#8b3fd8" stroke-width="1.5" stroke-linejoin="round"/>
<circle cx="909.6" cy="387.1" r="2.1" fill="#e0404e"/>
<path d="M895.5 391.8 Q896.1 394.8 899.1 395.4 Q896.1 396 895.5 399 Q894.9 396 891.9 395.4 Q894.9 394.8 895.5 391.8 Z" fill="#5b5ce0"/>
<circle cx="961" cy="392.2" r="7.5" fill="#fff" stroke="#e44a52" stroke-width="1.5"/>
<rect x="955.6" y="388.6" width="1.5" height="4.6" fill="#3a8fd6"/><rect x="957.8" y="386.8" width="1.5" height="6.4" fill="#3a8fd6"/><rect x="960" y="387.8" width="1.5" height="5.4" fill="#3a8fd6"/>
<rect x="961.9" y="388.4" width="3.8" height="1.2" fill="#e44a52"/><rect x="961.9" y="390.6" width="4.8" height="1.3" fill="#e44a52"/><rect x="961.9" y="392.6" width="4.8" height="0.8" fill="#f3b0b4"/>
<path d="M955.2 395.3 H966.8 L965.6 397.6 H956.4 Z" fill="#e44a52"/>
</svg>
</body></html>
